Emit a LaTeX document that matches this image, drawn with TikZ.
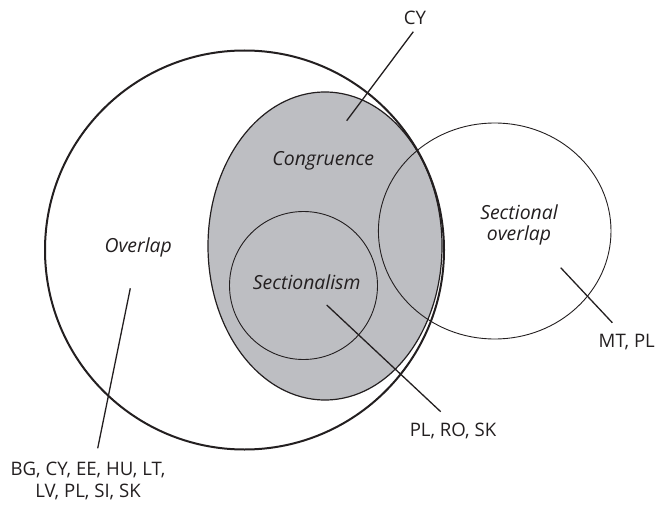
\documentclass[tikz,border=0pt]{standalone}
\usepackage{fontspec}
\setmainfont{Open Sans}
\usetikzlibrary{shapes.geometric}
\definecolor{congrgray}{RGB}{189,190,194}
\definecolor{ink}{RGB}{35,31,32}
\tikzset{
  lbl/.style={font=\fontsize{18.6}{22.3}\selectfont, inner sep=0pt, align=center, text=ink},
  ilbl/.style={lbl, font=\fontsize{19.4}{21.7}\selectfont\itshape},
  leader/.style={line width=1.3pt, ink},
  thin/.style={line width=0.9pt, ink}
}
\begin{document}
\begin{tikzpicture}[x=1pt,y=-1pt]
\useasboundingbox (0,0) rectangle (655,505);
% gray congruence ellipse
\fill[congrgray] (325,246) ellipse [x radius=117, y radius=154];
\draw[line width=1.2pt, ink] (325,246) ellipse [x radius=117, y radius=154];
% sectionalism circle
\draw[thin] (303.5,285.5) circle [radius=74];
% sectional overlap
\draw[thin] (494.7,231) ellipse [x radius=116.3, y radius=108];
% big overlap circle
\draw[line width=2pt, ink] (244.5,250) circle [radius=199.5];

% labels
\node[ilbl, anchor=base] (cong) at (323.3,165) {Congruence};
\node[ilbl, anchor=base] (ovl) at (138.2,252) {Overlap};
\node[ilbl, anchor=base] (sect) at (306.7,289.3) {Sectionalism};
\node[ilbl] (sov) at (519,225) {Sectional\\overlap};

\node[lbl, anchor=base] (cy) at (415,25) {CY};
\node[lbl, anchor=base] (mtpl) at (626.8,347.3) {MT, PL};
\node[lbl, anchor=base] (prs) at (453,436) {PL, RO, SK};
\node[lbl] (bg) at (88,481) {BG, CY, EE, HU, LT,\\LV, PL, SI, SK};

% leader endpoints
\coordinate (cyA) at (413.3,31.7);
\coordinate (cyB) at (346.7,120.7);
\coordinate (ovA) at (130.3,288.3);
\coordinate (ovB) at (97.7,448.3);
\coordinate (seA) at (326.7,305);
\coordinate (seB) at (440.7,411.7);
\coordinate (mtA) at (560.7,267.7);
\coordinate (mtB) at (612.3,322.7);

\draw[leader] (cyA) -- (cyB);
\draw[leader] (ovA) -- (ovB);
\draw[leader] (seA) -- (seB);
\draw[leader] (mtA) -- (mtB);
\end{tikzpicture}
\end{document}
